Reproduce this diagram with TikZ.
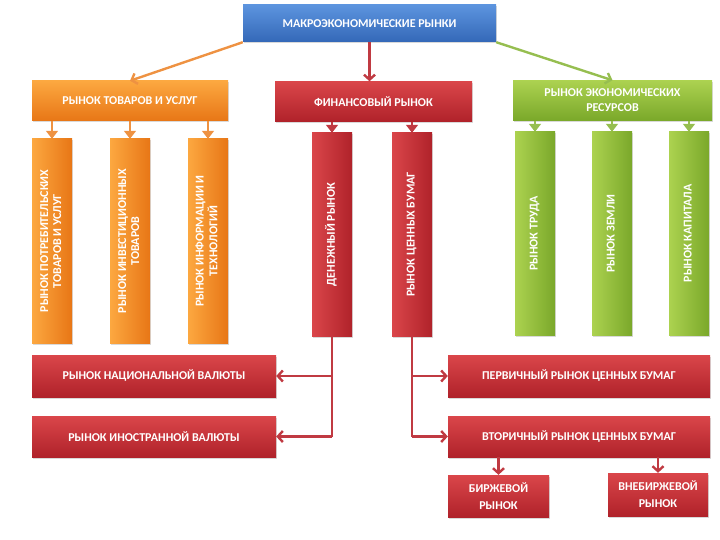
\documentclass[tikz,border=0pt]{standalone}
\usepackage{fontspec}
\setmainfont{Carlito}
\usetikzlibrary{arrows.meta,calc,positioning,shadows}
\definecolor{SlideBlue}{RGB}{52,104,184}
\definecolor{SlideBlueLight}{RGB}{92,148,222}
\definecolor{MarketOrange}{RGB}{232,118,22}
\definecolor{MarketOrangeLight}{RGB}{252,168,64}
\definecolor{MarketRed}{RGB}{176,34,42}
\definecolor{MarketRedLight}{RGB}{218,70,74}
\definecolor{MarketGreen}{RGB}{122,168,42}
\definecolor{MarketGreenLight}{RGB}{172,210,80}
\definecolor{LinkOrange}{RGB}{238,146,66}
\definecolor{LinkRed}{RGB}{192,58,66}
\definecolor{LinkGreen}{RGB}{150,190,80}
\newcommand{\vtext}[1]{\rotatebox{90}{\begin{tabular}{@{}c@{}}#1\end{tabular}}}

\begin{document}
\begin{tikzpicture}[x=1pt,y=-1pt,
    box/.style={text=white,align=center,inner sep=1pt,
      font=\bfseries\fontsize{12}{13}\selectfont,
      drop shadow={shadow xshift=1pt,shadow yshift=-1.5pt,opacity=.3}},
    bluebox/.style={box,top color=SlideBlueLight,bottom color=SlideBlue},
    orangebox/.style={box,top color=MarketOrangeLight,bottom color=MarketOrange},
    redbox/.style={box,top color=MarketRedLight,bottom color=MarketRed},
    greenbox/.style={box,top color=MarketGreenLight,bottom color=MarketGreen},
    head/.style={minimum width=#1,minimum height=40pt},
    column/.style={minimum width=40pt,minimum height=#1},
    orangecol/.style={box,column=#1,left color=MarketOrangeLight,right color=MarketOrange},
    redcol/.style={box,column=#1,left color=MarketRedLight,right color=MarketRed},
    greencol/.style={box,column=#1,left color=MarketGreenLight,right color=MarketGreen},
    link/.style={line width=2.4pt,-{Straight Barb[length=5pt,width=11pt,line width=2.4pt]}},
    drop/.style={line width=1.5pt,-{Triangle[length=8pt,width=12pt]}}]
  \useasboundingbox (0,0) rectangle (720,540);

  % top level
  \node[bluebox,minimum width=253pt,minimum height=37pt] (macro) at (369.5,23.5)
    {МАКРОЭКОНОМИЧЕСКИЕ РЫНКИ};
  \node[orangebox,head=196pt] (goods) at (130,101) {РЫНОК ТОВАРОВ И УСЛУГ};
  \node[redbox,head=197pt] (finance) at (373.5,101.5) {ФИНАНСОВЫЙ РЫНОК};
  \node[greenbox,head=199pt] (resources) at (612.5,100.5)
    {РЫНОК ЭКОНОМИЧЕСКИХ\\[2pt] РЕСУРСОВ};

  \draw[link,LinkOrange] (macro.south west) -- (goods.north);
  \draw[link,LinkRed] (macro.south) -- (macro.south |- finance.north);
  \draw[link,LinkGreen] (macro.south east) -- (resources.north);

  % columns
  \node[orangecol=204pt] (consumer) at (52,241)
    {\vtext{РЫНОК ПОТРЕБИТЕЛЬСКИХ\\ ТОВАРОВ И УСЛУГ}};
  \node[orangecol=204pt] (invest) at (130,241)
    {\vtext{РЫНОК ИНВЕСТИЦИОННЫХ\\ ТОВАРОВ}};
  \node[orangecol=204pt] (info) at (208,241)
    {\vtext{РЫНОК ИНФОРМАЦИИ И\\ ТЕХНОЛОГИЙ}};
  \node[redcol=203pt] (money) at (332,234.5) {\vtext{ДЕНЕЖНЫЙ РЫНОК}};
  \node[redcol=203pt] (securities) at (412,234.5) {\vtext{РЫНОК ЦЕННЫХ БУМАГ}};
  \node[greencol=203pt] (labour) at (535,233.5) {\vtext{РЫНОК ТРУДА}};
  \node[greencol=203pt] (land) at (612,233.5) {\vtext{РЫНОК ЗЕМЛИ}};
  \node[greencol=203pt] (capital) at (689,233.5) {\vtext{РЫНОК КАПИТАЛА}};

  \foreach \c in {consumer,invest,info}
    \draw[drop,LinkOrange] (\c.north |- goods.south) -- (\c.north);
  \foreach \c in {money,securities}
    \draw[drop,LinkRed] (\c.north |- finance.south) -- (\c.north);
  \foreach \c in {labour,land,capital}
    \draw[drop,LinkGreen] (\c.north |- resources.south) -- (\c.north);

  % money and securities markets
  \node[redbox,minimum width=244pt,minimum height=42pt] (national) at (154,376)
    {РЫНОК НАЦИОНАЛЬНОЙ ВАЛЮТЫ};
  \node[redbox,minimum width=244pt,minimum height=41pt] (foreign) at (154,436.5)
    {РЫНОК ИНОСТРАННОЙ ВАЛЮТЫ};
  \node[redbox,minimum width=262pt,minimum height=42pt] (primary) at (579,376)
    {ПЕРВИЧНЫЙ РЫНОК ЦЕННЫХ БУМАГ};
  \node[redbox,minimum width=262pt,minimum height=41pt] (secondary) at (579,436.5)
    {ВТОРИЧНЫЙ РЫНОК ЦЕННЫХ БУМАГ};
  \node[redbox,minimum width=101pt,minimum height=42pt] (exchange) at (498.5,496)
    {БИРЖЕВОЙ\\[4pt] РЫНОК};
  \node[redbox,minimum width=100pt,minimum height=43pt] (otc) at (658,494.5)
    {ВНЕБИРЖЕВОЙ\\[4pt] РЫНОК};

  \coordinate (mturn) at (money.south |- foreign.east);
  \coordinate (sturn) at (securities.south |- secondary.west);
  \draw[line width=2.4pt,LinkRed] (money.south) -- (mturn);
  \draw[line width=2.4pt,LinkRed] (securities.south) -- (sturn);
  \draw[link,LinkRed] (money.south |- national.east) -- (national.east);
  \draw[link,LinkRed] (mturn) -- (foreign.east);
  \draw[link,LinkRed] (securities.south |- primary.west) -- (primary.west);
  \draw[link,LinkRed] (sturn) -- (secondary.west);
  \draw[link,LinkRed] (secondary.south -| exchange.north) -- (exchange.north);
  \draw[link,LinkRed] (secondary.south -| otc.north) -- (otc.north);
\end{tikzpicture}
\end{document}
